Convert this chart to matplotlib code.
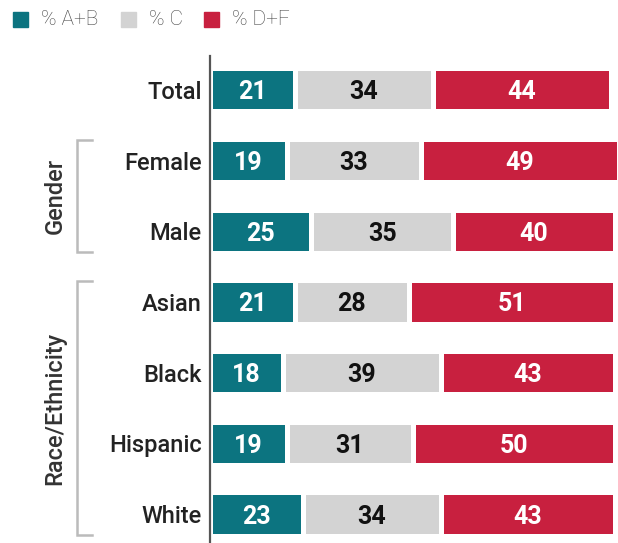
import matplotlib
matplotlib.use("Agg")
import matplotlib.pyplot as plt
import matplotlib.transforms as mtransforms
from matplotlib.patches import Rectangle
from matplotlib.lines import Line2D
import numpy as np

categories = ["Total", "Female", "Male", "Asian", "Black", "Hispanic", "White"]
pct_ab = [21, 19, 25, 21, 18, 19, 23]
pct_c = [34, 33, 35, 28, 39, 31, 34]
pct_df = [44, 49, 40, 51, 43, 50, 43]
series_names = ["% A+B", "% C", "% D+F"]
groups = [("Gender", 1, 2), ("Race/Ethnicity", 3, 6)]

colors = ["#0c7480", "#d3d3d3", "#c8203f"]
text_colors = ["white", "#111111", "white"]

plt.rcParams['font.family'] = ['Roboto', 'DejaVu Sans']

W, H = 618, 543
fig = plt.figure(figsize=(W / 100, H / 100), dpi=100)
ax = fig.add_axes([210 / W, 0.0, 1 - 210 / W, (H - 56) / H])

y = np.arange(len(categories))
series = [pct_ab, pct_c, pct_df]
left = np.zeros(len(categories))
for vals, col, tcol in zip(series, colors, text_colors):
    vals = np.array(vals, dtype=float)
    ax.barh(y, vals, left=left, height=0.61, color=col, edgecolor="white",
            linewidth=3.6, zorder=2)
    for yi, l, v in zip(y, left, vals):
        ax.text(l + v / 2, yi, f"{int(v)}", ha="center", va="center_baseline",
                color=tcol, fontsize=18, fontweight="bold", zorder=3)
    left += vals

ax.set_xlim(0, 100.7)
ax.set_ylim(6.41, -0.48)
for s in ["top", "right", "bottom"]:
    ax.spines[s].set_visible(False)
ax.spines["left"].set_color("#555555")
ax.spines["left"].set_linewidth(1.6)
ax.spines["left"].set_zorder(4)
ax.set_xticks([])
ax.set_yticks(y)
ax.set_yticklabels(categories, fontsize=17, fontweight="medium", color="#222222")
ax.tick_params(axis="y", length=0, pad=6)

# group brackets
trans = mtransforms.blended_transform_factory(fig.transFigure, ax.transData)
x_vert = 77 / W
x_tick = 92 / W
for name, i0, i1 in groups:
    top = i0 - 0.29
    bot = i1 + 0.29
    line = Line2D([x_tick, x_vert, x_vert, x_tick], [top, top, bot, bot],
                  transform=trans, color="#bbbbbb", linewidth=1.8,
                  solid_joinstyle="miter", clip_on=False)
    fig.add_artist(line)
    fig.text(55 / W, (i0 + i1) / 2, name, transform=trans, rotation=90,
             ha="center", va="center", fontsize=17, fontweight="medium",
             color="#333333")

# legend
leg_y = 1 - 19.5 / H
xs_sq = [13, 121, 204]
for name, col, xs in zip(series_names, colors, xs_sq):
    fig.add_artist(Rectangle((xs / W, 1 - 27 / H), 15 / W, 15 / H,
                             transform=fig.transFigure, color=col))
    fig.text((xs + 28) / W, leg_y, name, ha="left", va="center",
             fontsize=15, fontweight="light", color="#444444")

fig.savefig("out.png", dpi=100)
